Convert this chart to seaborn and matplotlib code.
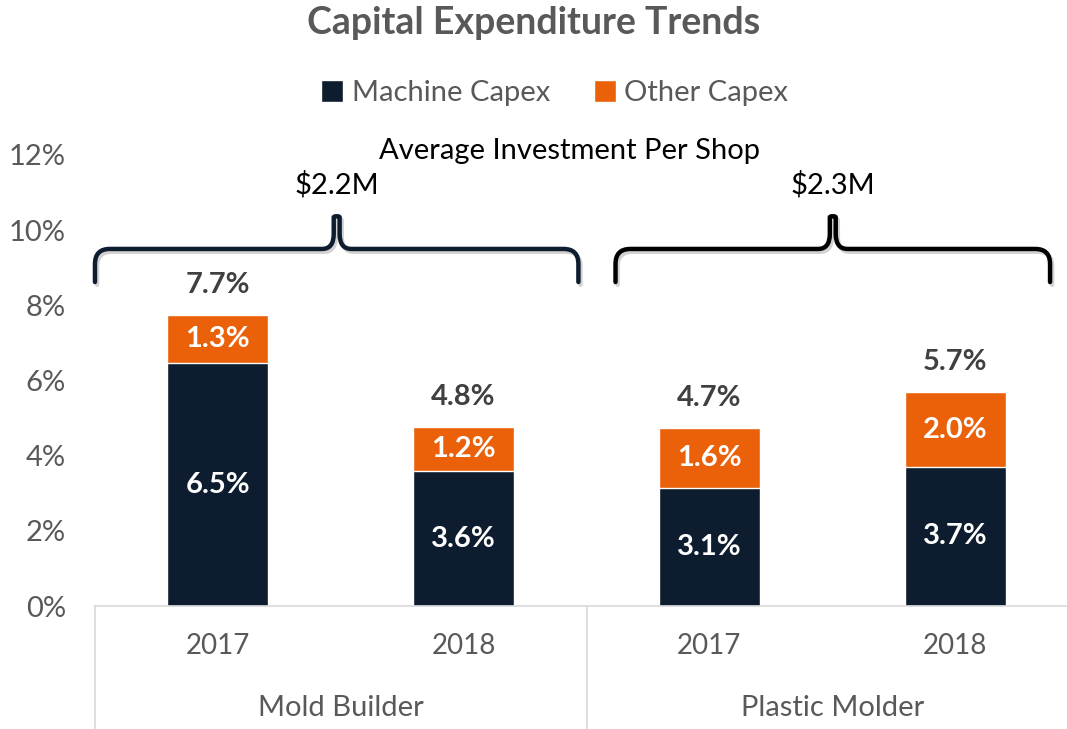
import matplotlib
matplotlib.use("Agg")
import matplotlib.pyplot as plt
import matplotlib.patheffects as pe
from matplotlib.path import Path
from matplotlib.patches import PathPatch, Patch
import seaborn as sns
import pandas as pd
import numpy as np

groups = ["Mold Builder", "Mold Builder", "Plastic Molder", "Plastic Molder"]
years = ["2017", "2018", "2017", "2018"]
machine_capex = [6.46, 3.59, 3.14, 3.70]
other_capex = [1.28, 1.17, 1.59, 1.99]
group_names = ["Mold Builder", "Plastic Molder"]
shop_investment = ["$2.2M", "$2.3M"]
yticks = [0, 2, 4, 6, 8, 10, 12]

NAVY = "#0e1c2f"
ORANGE = "#ea6109"
GRAY = "#595959"
DARK = "#404040"

sns.set_theme(style="white")
plt.rcParams["font.family"] = ["Lato", "DejaVu Sans"]

labels = [f"{g} {y}" for g, y in zip(groups, years)]
totals = [m + o for m, o in zip(machine_capex, other_capex)]
df = pd.DataFrame({"label": labels, "machine": machine_capex, "other": other_capex, "total": totals})

fig = plt.figure(figsize=(10.67, 7.29), dpi=100)
ax = fig.add_axes([0.089, 0.1687, 0.911, 0.6187])

sns.barplot(data=df, x="label", y="total", color=ORANGE, width=0.41, saturation=1, ax=ax, order=labels)
sns.barplot(data=df, x="label", y="machine", color=NAVY, width=0.41, saturation=1, ax=ax, order=labels)

ax.set_xlim(-0.5, 3.455)
ax.set_ylim(0, 12)
ax.set_yticks(yticks)
ax.set_yticklabels([f"{v}%" for v in yticks], fontsize=21, color=GRAY)
ax.tick_params(axis="y", length=0, pad=21)
ax.set_xticks([])
ax.set_xlabel("")
ax.set_ylabel("")
for s in ["top", "right", "left"]:
    ax.spines[s].set_visible(False)
ax.spines["bottom"].set_color("#d9d9d9")
ax.spines["bottom"].set_linewidth(1.2)

# separators
for xs in [-0.5, 1.5, 3.5]:
    ax.plot([xs, xs], [0, -3.4], color="#d9d9d9", lw=1.2, clip_on=False)

# year and group labels
for i, y in enumerate(years):
    ax.text(i, -1.07, y, ha="center", va="center", fontsize=20, color=GRAY)
for gi, g in enumerate(group_names):
    ax.text(gi * 2 + 0.5, -2.72, g, ha="center", va="center", fontsize=21, color=GRAY)

# data labels
for i in range(4):
    m, o, t = machine_capex[i], other_capex[i], totals[i]
    ax.text(i, m / 2, f"{m:.1f}%", ha="center", va="center", fontsize=21, color="white", fontweight="bold")
    ax.text(i, m + o / 2, f"{o:.1f}%", ha="center", va="center", fontsize=21, color="white", fontweight="bold")
    ax.text(i, t + 0.8, f"{t:.1f}%", ha="center", va="center", fontsize=21, color=DARK, fontweight="bold")

# braces
def brace(x0, x1, yend, yh, ytip, color):
    xm = (x0 + x1) / 2
    rx, ry = 0.06, 0.4
    d = 0.012
    verts = [
        (x0, yend), (x0, yh - ry), (x0, yh), (x0 + rx, yh),
        (xm - rx, yh), (xm - d, yh), (xm - d, yh + ry), (xm - d, ytip - 0.05),
        (xm, ytip), (xm + d, ytip - 0.05),
        (xm + d, yh + ry), (xm + d, yh), (xm + rx, yh),
        (x1 - rx, yh), (x1, yh), (x1, yh - ry), (x1, yend),
    ]
    codes = [
        Path.MOVETO, Path.LINETO, Path.CURVE3, Path.CURVE3,
        Path.LINETO, Path.CURVE3, Path.CURVE3, Path.LINETO,
        Path.CURVE3, Path.CURVE3,
        Path.LINETO, Path.CURVE3, Path.CURVE3,
        Path.LINETO, Path.CURVE3, Path.CURVE3, Path.LINETO,
    ]
    p = PathPatch(Path(verts, codes), fill=False, edgecolor=color, lw=3.2,
                  capstyle="round", joinstyle="round", clip_on=False,
                  path_effects=[pe.SimpleLineShadow(offset=(1.5, -2), shadow_color="gray", alpha=0.35), pe.Normal()])
    ax.add_patch(p)
    return xm

xm1 = brace(-0.5, 1.467, 8.62, 9.5, 10.4, NAVY)
xm2 = brace(1.618, 3.386, 8.62, 9.5, 10.4, "black")
ax.text(xm1, 11.2, shop_investment[0], ha="center", va="center", fontsize=21, color="black")
ax.text(xm2, 11.2, shop_investment[1], ha="center", va="center", fontsize=21, color="black")
ax.text(1.43, 12.1, "Average Investment Per Shop", ha="center", va="center", fontsize=21, color="black")

# title and legend
fig.text(0.5, 0.968, "Capital Expenditure Trends", ha="center", va="center", fontsize=27,
         fontweight="bold", color=GRAY)
handles = [Patch(facecolor=NAVY, label="Machine Capex"), Patch(facecolor=ORANGE, label="Other Capex")]
fig.legend(handles=handles, loc="center", bbox_to_anchor=(0.52, 0.872), ncol=2, frameon=False,
           fontsize=21, handlelength=0.75, handleheight=0.75, handletextpad=0.3, columnspacing=1.5,
           labelcolor=GRAY)

fig.savefig("out.png", dpi=100)
